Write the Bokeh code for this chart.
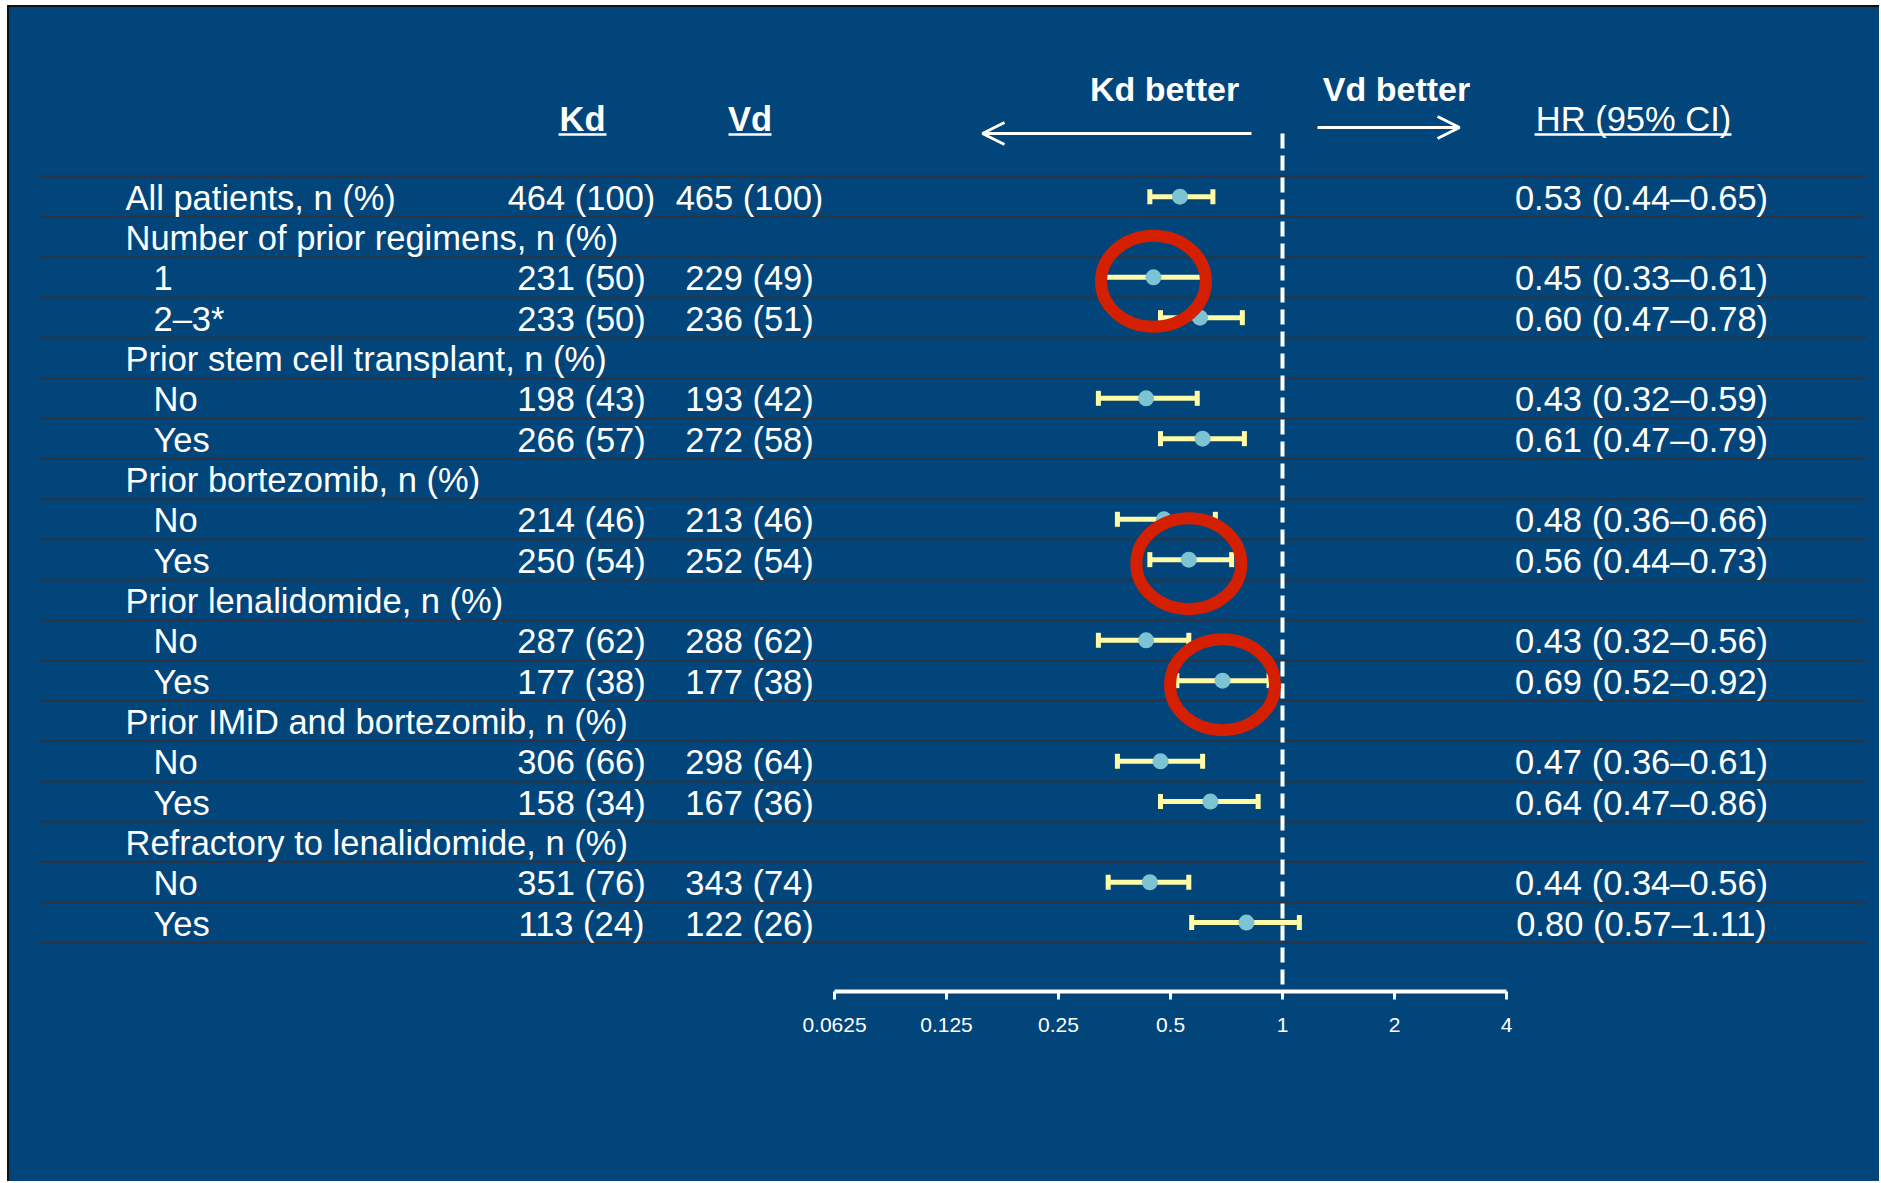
import math
from bokeh.plotting import figure
from bokeh.models import Range1d, LogScale, LogAxis, FixedTicker, Arrow, OpenHead, ColumnDataSource
from bokeh.core.properties import value
from bokeh.embed import file_html
from bokeh.resources import INLINE

# ---------------- data ----------------
labels = ["All patients, n (%)", "Number of prior regimens, n (%)", "1", "2\u20133*",
          "Prior stem cell transplant, n (%)", "No", "Yes",
          "Prior bortezomib, n (%)", "No", "Yes",
          "Prior lenalidomide, n (%)", "No", "Yes",
          "Prior IMiD and bortezomib, n (%)", "No", "Yes",
          "Refractory to lenalidomide, n (%)", "No", "Yes"]
is_header = [True, True, False, False, True, False, False, True, False, False,
             True, False, False, True, False, False, True, False, False]
kd_n = ["464 (100)", "", "231 (50)", "233 (50)", "", "198 (43)", "266 (57)", "", "214 (46)", "250 (54)",
        "", "287 (62)", "177 (38)", "", "306 (66)", "158 (34)", "", "351 (76)", "113 (24)"]
vd_n = ["465 (100)", "", "229 (49)", "236 (51)", "", "193 (42)", "272 (58)", "", "213 (46)", "252 (54)",
        "", "288 (62)", "177 (38)", "", "298 (64)", "167 (36)", "", "343 (74)", "122 (26)"]
hr = [0.53, None, 0.45, 0.60, None, 0.43, 0.61, None, 0.48, 0.56,
      None, 0.43, 0.69, None, 0.47, 0.64, None, 0.44, 0.80]
hr_lo = [0.44, None, 0.33, 0.47, None, 0.32, 0.47, None, 0.36, 0.44,
         None, 0.32, 0.52, None, 0.36, 0.47, None, 0.34, 0.57]
hr_hi = [0.65, None, 0.61, 0.78, None, 0.59, 0.79, None, 0.66, 0.73,
         None, 0.56, 0.92, None, 0.61, 0.86, None, 0.56, 1.11]
highlight_rows = [2, 9, 12]
tick_values = [0.0625, 0.125, 0.25, 0.5, 1, 2, 4]
tick_labels = ["0.0625", "0.125", "0.25", "0.5", "1", "2", "4"]
col_headers = ["Kd", "Vd", "HR (95% CI)"]
direction_labels = ["Kd better", "Vd better"]
NULL_HR = 1

# ---------------- layout / style ----------------
W, H = 1881, 1183
OX, OY = 9, 7
AXIS_Y = 991
TOP_LINE = 176
ROW_H = 40.33
X_ONE = 1282
PX_PER_DOUBLING = 112
TXT_DY = 1

BG = "#02457A"
WHITE = "#FFFFFF"
RULE = "#2B3440"
CI_COL = "#FFFBA6"
PT_COL = "#7CC4D3"
RED = "#D42000"
FONT = "Liberation Sans"
FS = "34.5px"

n = len(labels)
yc = [TOP_LINE + (i + 0.5) * ROW_H for i in range(n)]

p = figure(width=W - OX, height=H - OY, output_backend="svg", toolbar_location=None,
           x_axis_location=None, y_axis_location=None,
           x_range=Range1d(OX, W), y_range=Range1d(AXIS_Y, OY),
           min_border_left=0, min_border_right=0, min_border_top=0,
           min_border_bottom=H - AXIS_Y)
p.margin = (5, 0, 0, 7)
p.styles = {"border-top": "2px solid #111111", "border-left": "2px solid #111111",
            "background-color": BG}
p.background_fill_color = BG
p.border_fill_color = BG
p.outline_line_color = None
p.grid.visible = False

hr_start = 2 ** ((OX - X_ONE) / PX_PER_DOUBLING)
hr_end = 2 ** ((W - X_ONE) / PX_PER_DOUBLING)
p.extra_x_ranges = {"hr": Range1d(hr_start, hr_end)}
p.extra_x_scales = {"hr": LogScale()}

# row separators
ys = [TOP_LINE + k * ROW_H for k in range(n + 1)]
p.segment(x0=[39] * len(ys), x1=[1866] * len(ys), y0=ys, y1=ys, line_color=RULE, line_width=2)

# row labels
lab_src = ColumnDataSource(dict(
    x=[125 if h else 153 for h in is_header],
    y=[v + TXT_DY for v in yc], t=labels))
p.text(x="x", y="y", text="t", source=lab_src, text_color=WHITE, text_font=value(FONT),
       text_font_size=FS, text_align="left", text_baseline="alphabetic")

data_idx = [i for i in range(n) if hr[i] is not None]
num_src = ColumnDataSource(dict(
    y=[yc[i] + TXT_DY for i in data_idx],
    kd=[kd_n[i] for i in data_idx],
    vd=[vd_n[i] for i in data_idx],
    hrt=["%.2f (%.2f\u2013%.2f)" % (hr[i], hr_lo[i], hr_hi[i]) for i in data_idx],
    hr=[hr[i] for i in data_idx],
    lo=[hr_lo[i] for i in data_idx],
    hi=[hr_hi[i] for i in data_idx],
    yc=[yc[i] for i in data_idx],
    ct=[yc[i] - 7.5 for i in data_idx],
    cb=[yc[i] + 7.5 for i in data_idx],
))
for col, xx in (("kd", 581), ("vd", 749), ("hrt", 1641)):
    p.text(x=xx, y="y", text=col, source=num_src, text_color=WHITE, text_font=value(FONT),
           text_font_size=FS, text_align="center", text_baseline="alphabetic")

# column headers
p.text(x=[582, 749.5], y=[118, 118], text=col_headers[:2], text_color=WHITE, text_font=value(FONT),
       text_font_size=FS, text_font_style="bold", text_align="center", text_baseline="alphabetic")
p.text(x=[1633], y=[118], text=col_headers[2:], text_color=WHITE, text_font=value(FONT),
       text_font_size=FS, text_align="center", text_baseline="alphabetic")
p.segment(x0=[558, 728, 1534], x1=[606, 771, 1731], y0=[134] * 3, y1=[134] * 3,
          line_color=WHITE, line_width=2.5)
p.text(x=[1164, 1396], y=[88, 88], text=direction_labels, text_color=WHITE, text_font=value(FONT),
       text_font_size="34px", text_font_style="bold", text_align="center", text_baseline="alphabetic")

p.add_layout(Arrow(end=OpenHead(line_color=WHITE, line_width=3, size=22),
                   x_start=1251, y_start=133, x_end=982, y_end=133, line_color=WHITE, line_width=3))
p.add_layout(Arrow(end=OpenHead(line_color=WHITE, line_width=3, size=22),
                   x_start=1317, y_start=127, x_end=1459, y_end=127, line_color=WHITE, line_width=3))

# CI bars
p.segment(x0="lo", x1="hi", y0="yc", y1="yc", source=num_src, x_range_name="hr",
          line_color=CI_COL, line_width=5)
p.segment(x0="lo", x1="lo", y0="ct", y1="cb", source=num_src, x_range_name="hr",
          line_color=CI_COL, line_width=5)
p.segment(x0="hi", x1="hi", y0="ct", y1="cb", source=num_src, x_range_name="hr",
          line_color=CI_COL, line_width=5)

# null line
p.segment(x0=[NULL_HR], x1=[NULL_HR], y0=[133], y1=[AXIS_Y], x_range_name="hr",
          line_color=WHITE, line_width=4, line_dash="15 7")

p.scatter(x="hr", y="yc", source=num_src, x_range_name="hr", size=16,
          fill_color=PT_COL, line_color=None)

# highlight rings
p.ellipse(x=[hr[i] for i in highlight_rows], y=[yc[i] + 4 for i in highlight_rows],
          width=105, height=91, width_units="screen", height_units="screen",
          x_range_name="hr", fill_color=None, line_color=RED, line_width=12)

# axis
ax = LogAxis(x_range_name="hr", ticker=FixedTicker(ticks=tick_values),
             bounds=(tick_values[0], tick_values[-1]))
ax.major_label_overrides = {v: s for v, s in zip(tick_values, tick_labels)}
ax.axis_line_color = WHITE
ax.axis_line_width = 4
ax.major_tick_line_color = WHITE
ax.major_tick_line_width = 3
ax.major_tick_in = 0
ax.major_tick_out = 8
ax.minor_tick_line_color = None
ax.major_label_text_color = WHITE
ax.major_label_text_font = FONT
ax.major_label_text_font_size = "21px"
ax.major_label_standoff = 18
p.add_layout(ax, "below")

open("out.html", "w").write(file_html(p, INLINE))
